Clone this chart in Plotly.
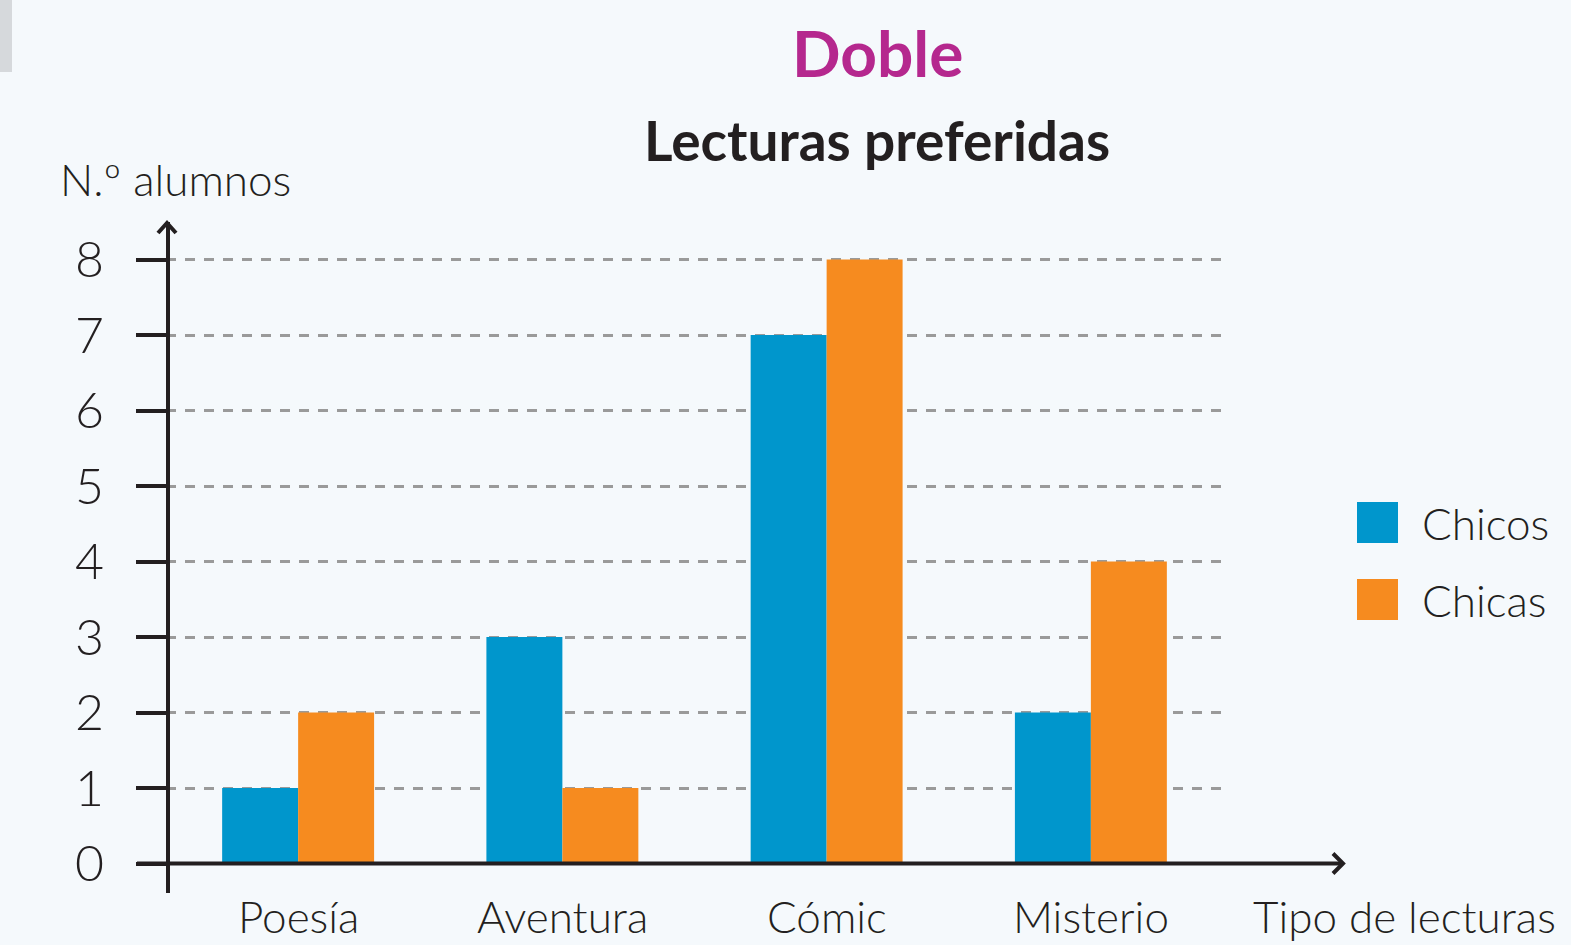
import plotly.graph_objects as go

categorias = ["Poesía", "Aventura", "Cómic", "Misterio"]
chicos = [1, 3, 7, 2]
chicas = [2, 1, 8, 4]
y_ticks = [0, 1, 2, 3, 4, 5, 6, 7, 8]

W, H = 1571, 945
L, R = 166, 1223          # plot area x pixels
T, B = 222, 893           # plot area y pixels

def px(x):
    return (x - L) / (R - L)

def py(y):
    return (B - y) / (B - T)

AX = "#231f20"
BLUE = "#0096cc"
ORANGE = "#f68b1f"
FONT = "Lato"
LW = 300

fig = go.Figure()
fig.add_trace(go.Bar(x=categorias, y=chicos, name="Chicos", marker=dict(color=BLUE, line=dict(width=0)),
                     showlegend=False))
fig.add_trace(go.Bar(x=categorias, y=chicas, name="Chicas", marker=dict(color=ORANGE, line=dict(width=0)),
                     showlegend=False))

shapes = []
# x axis line with arrow (at y=0)
y0p = py(863.5)
shapes.append(dict(type="line", xref="paper", yref="paper", x0=px(137), x1=px(1343), y0=y0p, y1=y0p,
                   line=dict(color=AX, width=4), layer="above"))
shapes.append(dict(type="path", xref="paper", yref="paper",
                   path=f"M {px(1333)} {py(853.5)} L {px(1343)} {y0p} L {px(1333)} {py(873.5)}",
                   line=dict(color=AX, width=4), layer="above"))
# y axis arrowhead
shapes.append(dict(type="path", xref="paper", yref="paper",
                   path=f"M {px(158)} {py(233)} L {px(167)} {py(223)} L {px(176)} {py(233)}",
                   line=dict(color=AX, width=4), layer="above"))
# legend squares
shapes.append(dict(type="rect", xref="paper", yref="paper", x0=px(1357), x1=px(1398), y0=py(543), y1=py(502),
                   fillcolor=BLUE, line=dict(width=0)))
shapes.append(dict(type="rect", xref="paper", yref="paper", x0=px(1357), x1=px(1398), y0=py(620), y1=py(579),
                   fillcolor=ORANGE, line=dict(width=0)))
# corner shadow
shapes.append(dict(type="rect", xref="paper", yref="paper", x0=px(-20), x1=px(12), y0=py(72), y1=py(-10),
                   fillcolor="#c9ccce", opacity=0.7, line=dict(width=0)))

def f(size, color=AX, weight=LW):
    return dict(family=FONT, size=size, color=color, weight=weight)

ann = [
    dict(text="<b>Doble</b>", x=px(877), y=py(52), xref="paper", yref="paper", showarrow=False,
         font=f(64, "#b5288e", 700), xanchor="center", yanchor="middle"),
    dict(text="<b>Lecturas preferidas</b>", x=px(877), y=py(140), xref="paper", yref="paper", showarrow=False,
         font=f(55, AX, 700), xanchor="center", yanchor="middle"),
    dict(text="N.º alumnos", x=px(58), y=py(179), xref="paper", yref="paper", showarrow=False,
         font=f(44), xanchor="left", yanchor="middle"),
    dict(text="Tipo de lecturas", x=px(1558), y=py(916), xref="paper", yref="paper", showarrow=False,
         font=f(44), xanchor="right", yanchor="middle"),
    dict(text="Chicos", x=px(1420), y=py(523), xref="paper", yref="paper", showarrow=False,
         font=f(44), xanchor="left", yanchor="middle"),
    dict(text="Chicas", x=px(1420), y=py(600), xref="paper", yref="paper", showarrow=False,
         font=f(44), xanchor="left", yanchor="middle"),
]
for c in categorias:
    ann.append(dict(text=c, x=c, xref="x", y=py(916), yref="paper", showarrow=False,
                    font=f(44), xanchor="center", yanchor="middle"))

ppu = 75.5
ybot = -(B - 863.5) / ppu
ytop = 8 + (259.5 - T) / ppu

fig.update_layout(
    width=W, height=H,
    margin=dict(l=L, r=W - R, t=T, b=H - B, pad=0, autoexpand=False),
    paper_bgcolor="#f5f9fc", plot_bgcolor="#f5f9fc",
    barmode="group", bargap=0.425, bargroupgap=0,
    showlegend=False,
    shapes=shapes, annotations=ann,
    font=dict(family=FONT, color=AX),
    xaxis=dict(type="category", range=[-0.5, 3.5], showgrid=False, zeroline=False, showline=False,
               ticks="", showticklabels=False, automargin=False, fixedrange=True),
    yaxis=dict(range=[ybot, ytop], tickvals=y_ticks, showgrid=True, gridcolor="#9a9a9a", gridwidth=2.5,
               griddash="10px,9px", zeroline=False, showline=True, linecolor=AX, linewidth=4,
               anchor="free", position=px(168),
               ticks="outside", ticklen=30, tickwidth=4, tickcolor=AX, automargin=False,
               tickfont=f(50), ticklabelstandoff=22, fixedrange=True),
)

fig.write_html("out.html", config={"displayModeBar": False},
               post_script="document.body.style.margin='0';document.body.style.overflow='hidden';")
